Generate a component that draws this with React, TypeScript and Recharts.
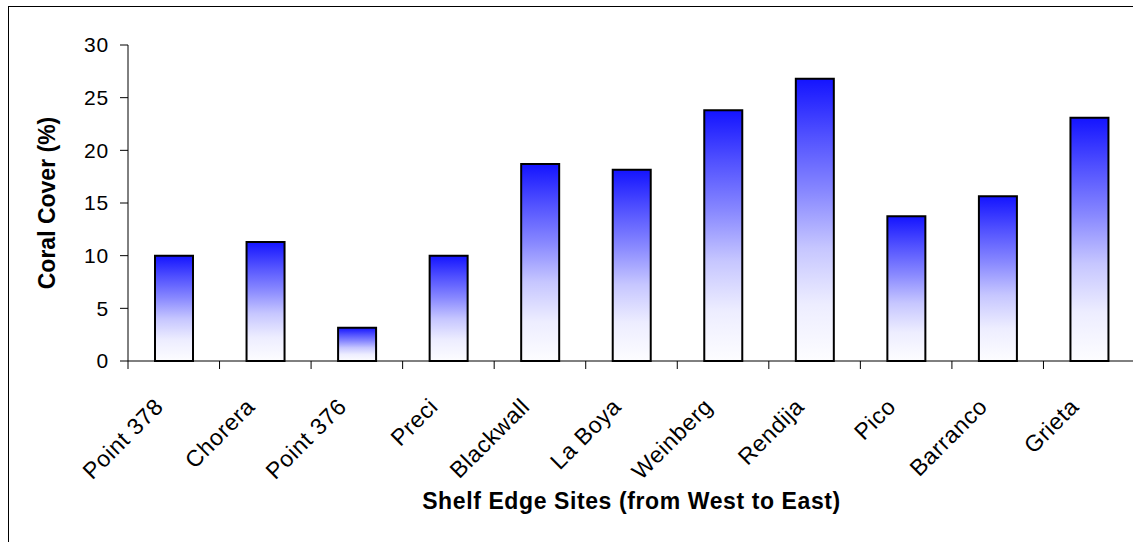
import { BarChart, Bar, XAxis, YAxis } from "recharts";

// Shelf edge sites, west to east, with mean coral cover (%)
const sites = [
  "Point 378",
  "Chorera",
  "Point 376",
  "Preci",
  "Blackwall",
  "La Boya",
  "Weinberg",
  "Rendija",
  "Pico",
  "Barranco",
  "Grieta",
];
const coralCover = [10.0, 11.3, 3.15, 10.0, 18.7, 18.15, 23.8, 26.8, 13.75, 15.65, 23.1];
const yTicks = [0, 5, 10, 15, 20, 25, 30];

const data = sites.map((site, i) => ({ site, cover: coralCover[i] }));

const CHART_W = 1126;
const CHART_H = 535;
const Y_AXIS_W = 119;
const MARGIN = { top: 38, right: 0, bottom: 1, left: 0 };
const BAND = (CHART_W - MARGIN.left - MARGIN.right - Y_AXIS_W) / sites.length;

// category label rotated 45deg, with the tick mark sitting on the band boundary
function SiteTick(props: any) {
  const { x, y, payload } = props;
  const tx = x - 9;
  const ty = y + 47;
  return (
    <g>
      <line x1={x - BAND / 2} y1={y} x2={x - BAND / 2} y2={y + 8} stroke="#000" />
      <text
        x={tx}
        y={ty}
        transform={`rotate(-45 ${tx} ${ty})`}
        textAnchor="end"
        fontSize={23}
        letterSpacing={0.6}
        fill="#000"
      >
        {payload.value}
      </text>
    </g>
  );
}

export default function App() {
  return (
    <div
      style={{
        position: "absolute",
        left: 8,
        top: 6,
        width: 1124,
        height: 535,
        borderTop: "1px solid #000",
        borderLeft: "1px solid #000",
        overflow: "hidden",
        background: "#fff",
        fontFamily: "Arial, 'Liberation Sans', sans-serif",
      }}
    >
      <BarChart width={CHART_W} height={CHART_H} data={data} margin={MARGIN} barSize={38}>
        <defs>
          <linearGradient id="coralFill" x1="0" y1="0" x2="0" y2="1">
            <stop offset="0%" stopColor="#1414ff" />
            <stop offset="20%" stopColor="#5050ff" />
            <stop offset="40%" stopColor="#8888ff" />
            <stop offset="60%" stopColor="#c6c6ff" />
            <stop offset="80%" stopColor="#ededff" />
            <stop offset="100%" stopColor="#fdfdff" />
          </linearGradient>
        </defs>
        <XAxis
          dataKey="site"
          interval={0}
          height={180}
          tickSize={0}
          tickMargin={0}
          tickLine={false}
          axisLine={{ stroke: "#000" }}
          tick={<SiteTick />}
          label={{
            value: "Shelf Edge Sites (from West to East)",
            position: "insideBottom",
            offset: 32,
            fontSize: 23,
            fontWeight: "bold",
            letterSpacing: 0.6,
            fill: "#000",
          }}
        />
        <YAxis
          width={Y_AXIS_W}
          domain={[0, 30]}
          ticks={yTicks}
          interval={0}
          tickSize={8}
          tickMargin={11}
          axisLine={{ stroke: "#000" }}
          tickLine={{ stroke: "#000" }}
          tick={{ fontSize: 21, fill: "#000", letterSpacing: 0.8 }}
          label={{
            value: "Coral Cover (%)",
            angle: -90,
            position: "insideLeft",
            offset: 38,
            fontSize: 23,
            fontWeight: "bold",
            fill: "#000",
            style: { textAnchor: "middle" },
          }}
        />
        <Bar
          dataKey="cover"
          fill="url(#coralFill)"
          stroke="#000"
          strokeWidth={2}
          isAnimationActive={false}
        />
      </BarChart>
    </div>
  );
}
